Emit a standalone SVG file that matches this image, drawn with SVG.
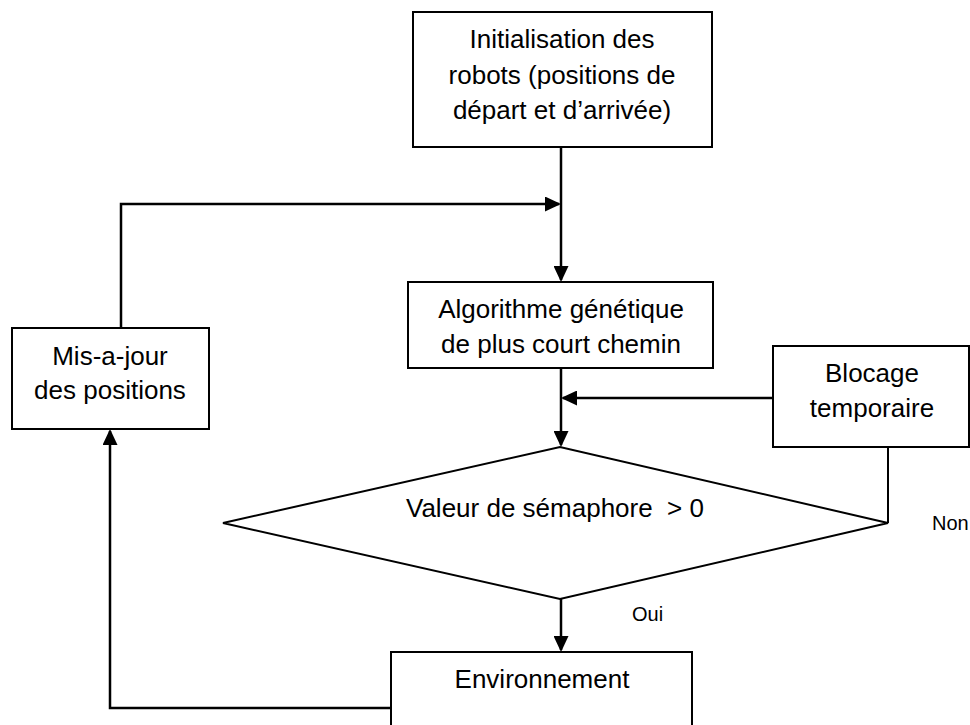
<svg xmlns="http://www.w3.org/2000/svg" width="970" height="725" viewBox="0 0 970 725">
  <defs>
    <style>
      .box { fill: #ffffff; stroke: #000000; stroke-width: 2; }
      .lbl { font-family: "Liberation Sans", Arial, sans-serif; font-size: 26px; fill: #000000; text-anchor: middle; }
      .small { font-family: "Liberation Sans", Arial, sans-serif; font-size: 20px; fill: #000000; }
      .wire { fill: none; stroke: #000000; stroke-width: 2.5; }
      .thin { fill: none; stroke: #000000; stroke-width: 2; }
    </style>
    <marker id="arrow" markerUnits="userSpaceOnUse" markerWidth="16" markerHeight="15" refX="14" refY="7.5" orient="auto">
      <path d="M0,0 L16,7.5 L0,15 Z" fill="#000000"/>
    </marker>
  </defs>
  <rect width="970" height="725" fill="#ffffff"/>

  <!-- connectors -->
  <g id="connectors">
    <!-- init -> algorithm -->
    <path class="wire" d="M561,147 L561,280" marker-end="url(#arrow)"/>
    <!-- position update loops back into the main line -->
    <path class="wire" d="M121,328 L121,204 L559,204" marker-end="url(#arrow)"/>
    <!-- algorithm -> semaphore test -->
    <path class="wire" d="M561,368 L561,445" marker-end="url(#arrow)"/>
    <!-- temporary blocking feeds back -->
    <path class="wire" d="M773,398 L563,398" marker-end="url(#arrow)"/>
    <!-- "Non" branch up to the blocking box -->
    <path class="thin" d="M888,523 L888,447"/>
    <!-- "Oui" branch down to environment -->
    <path class="wire" d="M561,599 L561,650" marker-end="url(#arrow)"/>
    <!-- environment -> position update -->
    <path class="wire" d="M391,708 L110,708 L110,431" marker-end="url(#arrow)"/>
  </g>

  <g id="init">
    <rect class="box" x="413" y="12" width="299" height="135"/>
    <text class="lbl" x="562" y="48">Initialisation des</text>
    <text class="lbl" x="562" y="84">robots (positions de</text>
    <text class="lbl" x="562" y="119">départ et d’arrivée)</text>
  </g>

  <g id="algorithme">
    <rect class="box" x="408" y="282" width="305" height="86"/>
    <text class="lbl" x="561" y="318">Algorithme génétique</text>
    <text class="lbl" x="561" y="353">de plus court chemin</text>
  </g>

  <g id="misajour">
    <rect class="box" x="12" y="328" width="197" height="101"/>
    <text class="lbl" x="110" y="365">Mis-a-jour</text>
    <text class="lbl" x="110" y="399">des positions</text>
  </g>

  <g id="blocage">
    <rect class="box" x="773" y="346" width="196" height="101"/>
    <text class="lbl" x="872" y="382">Blocage</text>
    <text class="lbl" x="872" y="417">temporaire</text>
  </g>

  <g id="semaphore">
    <polygon class="thin" points="223,523 560,447 888,523 560,599" fill="#ffffff"/>
    <text class="lbl" x="555" y="517" xml:space="preserve">Valeur de sémaphore  &gt; 0</text>
  </g>

  <g id="environnement">
    <rect class="box" x="391" y="652" width="301" height="90"/>
    <text class="lbl" x="542" y="688">Environnement</text>
  </g>

  <text class="small" x="632" y="621">Oui</text>
  <text class="small" x="932" y="530">Non</text>
</svg>
